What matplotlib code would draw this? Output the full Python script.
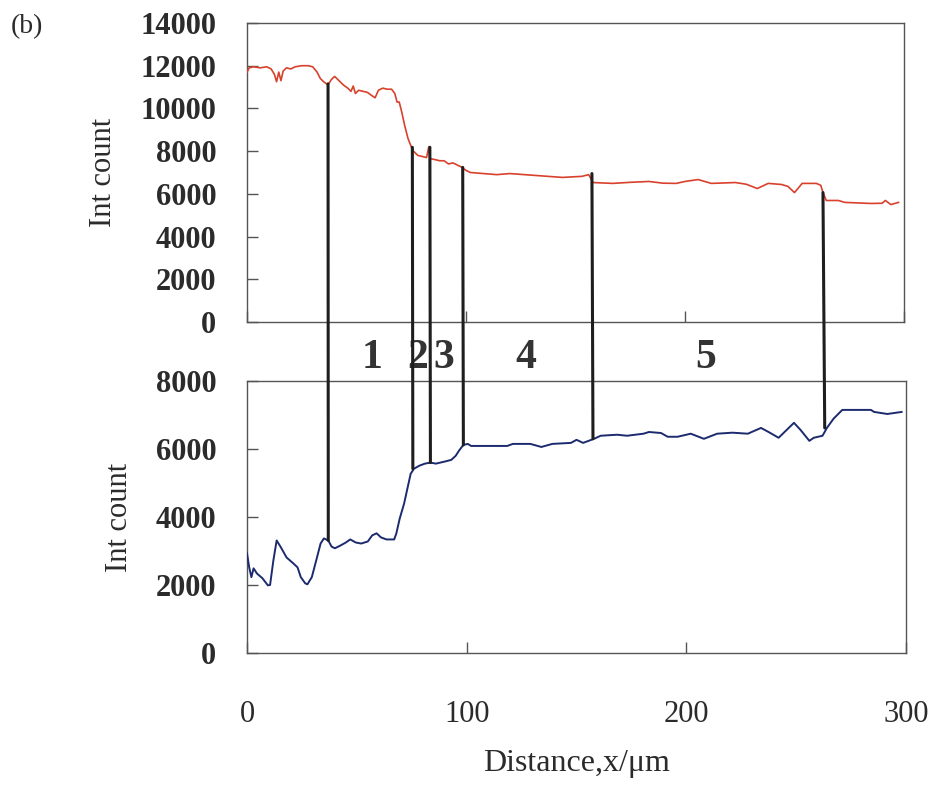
import matplotlib
matplotlib.use("Agg")
import matplotlib.pyplot as plt
from matplotlib.patches import ConnectionPatch
from matplotlib.transforms import blended_transform_factory

# Line-scan intensity profiles across the layered zone
upper_x = [0, 1, 3, 6, 9, 11, 12.5, 13.5, 14.5, 15.5, 16.5, 18, 20, 22, 25, 28, 30, 32,
           33.5, 35, 37, 38.5, 40, 42, 44, 46, 47.5, 48.5, 49.5, 51, 53, 55, 57, 58.5,
           60, 62, 64, 66, 67.5, 68.5, 69.5, 70.5, 72, 73.5, 75, 76, 78, 80, 82, 83,
           83.6, 86, 88, 90, 92, 94, 96, 98, 100, 102, 114, 120, 132, 144, 153, 156,
           158, 167, 175, 183.5, 190, 196, 200, 206, 212, 223, 228, 233, 238, 244,
           247, 250, 253.5, 260, 262, 263, 264.5, 270, 273, 285, 290, 291.5, 294, 297.5]
upper_y = [11700, 11900, 11950, 11900, 11950, 11850, 11600, 11250, 11700, 11300, 11750,
           11900, 11850, 11950, 12000, 12000, 11950, 11700, 11400, 11250, 11100, 11350,
           11500, 11300, 11100, 10950, 10800, 11050, 10700, 10850, 10800, 10750, 10600,
           10500, 10850, 10950, 10900, 10900, 10700, 10300, 10300, 9900, 9200, 8600,
           8200, 8000, 7800, 7750, 7700, 8200, 7650, 7600, 7550, 7550, 7400, 7450, 7350,
           7250, 7100, 7000, 6900, 6950, 6860, 6770, 6820, 6900, 6530, 6490, 6540, 6580,
           6500, 6490, 6580, 6670, 6490, 6530, 6450, 6250, 6490, 6440, 6350, 6060, 6490,
           6490, 6400, 6060, 5690, 5690, 5600, 5550, 5560, 5690, 5500, 5600]

lower_x = [0, 1, 2, 3, 4.5, 7, 9.5, 10.5, 12, 13.5, 15.5, 18, 21, 23, 24.5, 26.5, 27.5,
           29.5, 31.5, 33.5, 35, 37, 38.5, 40, 42.5, 45, 47, 49.5, 52, 55, 57, 59, 61,
           63.5, 67, 68, 69.5, 71.5, 73, 74.5, 76, 78.5, 81, 83.5, 86, 90, 93, 95, 96.5,
           98.5, 100.5, 102, 105, 118.5, 121, 129, 134, 139, 147.5, 150, 153, 158, 161,
           168.5, 173, 180.5, 183, 188.5, 191.5, 196, 202, 208, 214, 221, 228, 234, 238,
           242, 249, 252, 256, 258, 262, 264, 267, 271, 284, 285.5, 291.5, 298]
lower_y = [2930, 2520, 2230, 2490, 2340, 2200, 1990, 2000, 2720, 3310, 3100, 2810, 2640,
           2520, 2230, 2050, 2020, 2230, 2720, 3220, 3370, 3310, 3130, 3080, 3160, 3250,
           3340, 3250, 3220, 3280, 3460, 3520, 3400, 3340, 3340, 3520, 3950, 4390, 4830,
           5270, 5420, 5510, 5570, 5600, 5570, 5630, 5680, 5800, 5950, 6120, 6150, 6090,
           6090, 6090, 6150, 6150, 6060, 6150, 6180, 6270, 6180, 6300, 6390, 6420, 6390,
           6450, 6500, 6470, 6360, 6360, 6450, 6300, 6450, 6480, 6450, 6620, 6480, 6330,
           6770, 6560, 6240, 6330, 6390, 6620, 6890, 7150, 7150, 7090, 7030, 7090]

# Zone boundaries and where each tie line meets the two profiles
boundary_x = [37, 75.5, 83.5, 98.5, 157.5, 263]
boundary_upper = [11150, 8180, 8180, 7240, 6950, 6060]
boundary_lower = [3310, 5420, 5600, 6120, 6300, 6620]

zone_labels = ["1", "2", "3", "4", "5"]
zone_label_x = [57, 78, 90, 127.5, 209.5]

upper_yticks = [0, 2000, 4000, 6000, 8000, 10000, 12000, 14000]
lower_yticks = [0, 2000, 4000, 6000, 8000]
x_ticks = [0, 100, 200, 300]

SERIF = "Liberation Serif"
INK = "#2b2b2b"
plt.rcParams["font.family"] = [SERIF, "DejaVu Serif"]
plt.rcParams["mathtext.fontset"] = "custom"

fig = plt.figure(figsize=(9.37, 7.89), dpi=100)
W, H = 937, 789


def box(l, t, r, b):
    return [l / W, 1 - b / H, (r - l) / W, (b - t) / H]


ax_top = fig.add_axes(box(247, 23, 904, 322))
ax_bot = fig.add_axes(box(247, 381, 906, 653))

ax_top.plot(upper_x, upper_y, color="#d8412c", lw=1.2, zorder=3)
ax_bot.plot(lower_x, lower_y, color="#1c2a6e", lw=1.4, zorder=3)

for ax, yt, ymax in ((ax_top, upper_yticks, 14000), (ax_bot, lower_yticks, 8000)):
    ax.set_xlim(0, 300)
    ax.set_ylim(0, ymax)
    ax.set_yticks(yt)
    ax.set_yticklabels([str(v) for v in yt], fontsize=22, fontweight="bold", color=INK)
    ax.set_xticks(x_ticks)
    ax.tick_params(axis="both", direction="in", length=8, width=1, color="#555555",
                   top=False, right=False)
    ax.tick_params(axis="y", pad=22)
    for s in ax.spines.values():
        s.set_color("#555555")
        s.set_linewidth(1.0)
    ax.set_ylabel("Int count", fontsize=22, color=INK, labelpad=16)
    ax.patch.set_alpha(0)

ax_top.set_xticklabels([])
ax_bot.set_xticklabels([str(v) for v in x_ticks], fontsize=22, color=INK)
ax_bot.tick_params(axis="x", pad=34)
ax_bot.set_xlabel("Distance,x/\u03bcm", fontsize=23, color=INK, labelpad=14)

# Tie lines joining the zone boundaries on both profiles
for bx, yu, yl in zip(boundary_x, boundary_upper, boundary_lower):
    con = ConnectionPatch(xyA=(bx, yu), coordsA=ax_top.transData,
                          xyB=(bx, yl), coordsB=ax_bot.transData,
                          color="#1e1e1e", lw=2.2, zorder=5)
    fig.add_artist(con)

# Zone numbers in the gap between the panels
trans = blended_transform_factory(ax_top.transData, fig.transFigure)
for lab, lx in zip(zone_labels, zone_label_x):
    fig.text(lx, 1 - 358 / H, lab, transform=trans, ha="center", va="center",
             fontsize=30, fontweight="bold", color="#333333", zorder=4)

fig.text(27 / W, 1 - 27 / H, "(b)", ha="center", va="center", fontsize=20, color=INK)

fig.savefig("out.png", dpi=100, facecolor="white")
